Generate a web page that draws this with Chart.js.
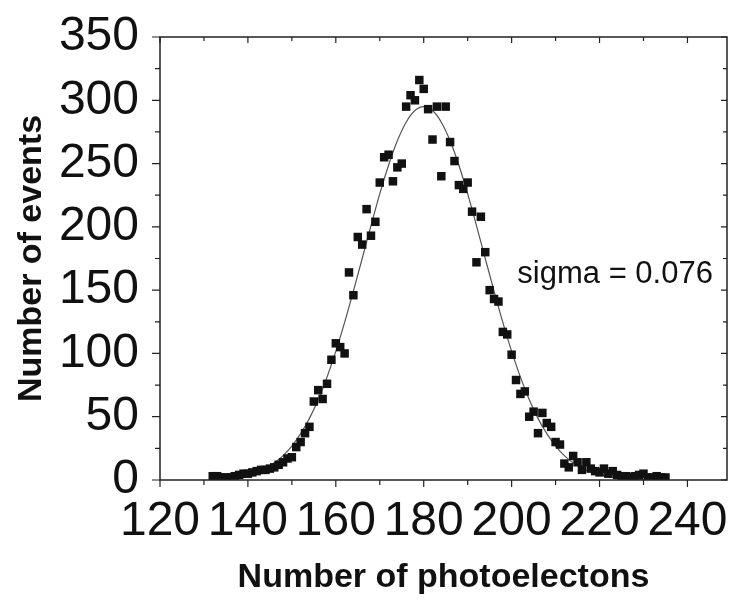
<!DOCTYPE html>
<html>
<head>
<meta charset="utf-8">
<script src="https://cdn.jsdelivr.net/npm/chart.js@4.4.1/dist/chart.umd.min.js"></script>
<style>
  html, body { margin: 0; padding: 0; background: #fff; }
  #wrap { width: 733px; height: 602px; position: relative; }
</style>
</head>
<body>
<div id="wrap"><canvas id="chart"></canvas></div>
<script>
// Photoelectron spectrum — measured bins and Gaussian fit

// bin centres (number of photoelectrons)
const binX = [
  132, 133, 134, 135, 136, 137, 138, 139, 140, 141,
  142, 143, 144, 145, 146, 147, 148, 149, 150, 151,
  152, 153, 154, 155, 156, 157, 158, 159, 160, 161,
  162, 163, 164, 165, 166, 167, 168, 169, 170, 171,
  172, 173, 174, 175, 176, 177, 178, 179, 180, 181,
  182, 183, 184, 185, 186, 187, 188, 189, 190, 191,
  192, 193, 194, 195, 196, 197, 198, 199, 200, 201,
  202, 203, 204, 205, 206, 207, 208, 209, 210, 211,
  212, 213, 214, 215, 216, 217, 218, 219, 220, 221,
  222, 223, 224, 225, 226, 227, 228, 229, 230, 231,
  232, 233, 234, 235
];
// events per bin
const binCounts = [
  3, 3, 2, 2, 2, 3, 4, 5, 5, 6,
  7, 8, 8, 9, 10, 12, 14, 17, 18, 26,
  30, 37, 42, 62, 71, 64, 76, 95, 108, 105,
  100, 164, 146, 192, 186, 214, 193, 204, 235, 255,
  257, 236, 247, 250, 295, 304, 300, 316, 309, 293,
  269, 295, 240, 295, 267, 252, 233, 230, 235, 212,
  172, 208, 180, 150, 143, 141, 117, 115, 99, 79,
  68, 70, 50, 54, 37, 53, 45, 42, 30, 28,
  13, 10, 19, 14, 8, 14, 9, 7, 6, 9,
  5, 7, 4, 3, 3, 2, 3, 4, 5, 2,
  2, 3, 2, 2
];

// fitted curve
const fitX = [
  132, 134, 136, 138, 140, 142, 144, 146, 148, 150,
  152, 154, 156, 158, 160, 162, 164, 166, 168, 170,
  172, 174, 176, 178, 180, 182, 184, 186, 188, 190,
  192, 194, 196, 198, 200, 202, 204, 206, 208, 210,
  212, 214, 216, 218, 220, 222, 224, 226, 228, 230,
  232, 234
];
const fitY = [
  0.6, 1.1, 1.7, 2.7, 4.2, 6.3, 9.4, 13.6, 19.3, 26.8,
  36.6, 48.7, 63.6, 81.3, 101.6, 124.5, 149.2, 175.0, 201.0, 226.0,
  248.7, 268.0, 282.7, 291.9, 295.0, 291.9, 282.7, 268.0, 248.7, 226.0,
  201.0, 175.0, 149.2, 124.5, 101.6, 81.3, 63.6, 48.7, 36.6, 26.8,
  19.3, 13.6, 9.4, 6.3, 4.2, 2.7, 1.7, 1.1, 0.6, 0.35,
  0.2, 0.1
];

const yTicks = [0, 50, 100, 150, 200, 250, 300, 350];
const xTicks = [120, 140, 160, 180, 200, 220, 240];
const note = 'sigma = 0.076';

const FONT = "'Liberation Sans', Arial, sans-serif";

// box around the plot, minor/major ticks on all four sides, and the sigma note
const framePlugin = {
  id: 'frame',
  afterDraw(chart) {
    const { ctx, chartArea: a, scales: { x, y } } = chart;
    ctx.save();
    ctx.strokeStyle = '#222';
    ctx.lineWidth = 1.5;
    ctx.strokeRect(a.left, a.top, a.right - a.left, a.bottom - a.top);

    ctx.lineWidth = 1.2;
    ctx.beginPath();
    for (let v = xTicks[0]; v <= x.max; v += 10) {
      const px = x.getPixelForValue(v);
      const major = xTicks.includes(v);
      ctx.moveTo(px, a.bottom); ctx.lineTo(px, a.bottom + (major ? 7 : 5));
      ctx.moveTo(px, a.top);    ctx.lineTo(px, a.top + (major ? 6 : 4));
    }
    for (let v = 0; v <= y.max; v += 25) {
      const py = y.getPixelForValue(v);
      const major = yTicks.includes(v);
      ctx.moveTo(a.left, py);  ctx.lineTo(a.left - (major ? 8 : 5), py);
      ctx.moveTo(a.right, py); ctx.lineTo(a.right - (major ? 6 : 4), py);
    }
    ctx.stroke();

    ctx.fillStyle = '#111';
    ctx.font = '31px ' + FONT;
    ctx.textAlign = 'left';
    ctx.textBaseline = 'alphabetic';
    ctx.fillText(note, x.getPixelForValue(201.3), y.getPixelForValue(155.6));
    ctx.restore();
  }
};

const ctx = document.getElementById('chart').getContext('2d');
new Chart(ctx, {
  type: 'scatter',
  data: {
    datasets: [
      {
        label: 'events',
        data: binX.map((v, i) => ({ x: v, y: binCounts[i] })),
        pointStyle: 'rect',
        pointRadius: 6,
        pointHoverRadius: 6,
        backgroundColor: '#111',
        borderColor: '#111',
        borderWidth: 0
      },
      {
        label: 'fit',
        data: fitX.map((v, i) => ({ x: v, y: fitY[i] })),
        showLine: true,
        pointRadius: 0,
        borderColor: '#555',
        borderWidth: 1.2,
        cubicInterpolationMode: 'monotone',
        fill: false
      }
    ]
  },
  options: {
    responsive: true,
    maintainAspectRatio: false,
    animation: false,
    layout: { padding: { top: 37, right: 1, left: 0, bottom: 0 } },
    plugins: {
      legend: { display: false },
      tooltip: { enabled: false }
    },
    scales: {
      x: {
        type: 'linear',
        min: 120,
        max: 249,
        afterFit: s => { s.height = 122; s.paddingLeft = 0; s.paddingRight = 0; },
        grid: { display: false },
        border: { display: false },
        ticks: {
          stepSize: 20,
          includeBounds: false,
          autoSkip: false,
          maxRotation: 0,
          padding: 5,
          color: '#111',
          font: { family: FONT, size: 48 },
          callback: v => xTicks.includes(v) ? String(v) : ''
        },
        title: {
          display: true,
          text: 'Number of photoelectons',
          color: '#111',
          padding: { top: 0, bottom: 4 },
          font: { family: FONT, size: 34, weight: 'bold' }
        }
      },
      y: {
        min: 0,
        max: 350,
        afterFit: s => { s.width = 160; s.paddingTop = 0; s.paddingBottom = 0; },
        grid: { display: false },
        border: { display: false },
        ticks: {
          stepSize: 50,
          autoSkip: false,
          padding: 13,
          color: '#111',
          font: { family: FONT, size: 48 },
          callback: v => yTicks.includes(v) ? String(v) : ''
        },
        title: {
          display: true,
          text: 'Number of events',
          color: '#111',
          padding: { top: 11, bottom: 0 },
          font: { family: FONT, size: 34, weight: 'bold' }
        }
      }
    }
  },
  plugins: [framePlugin]
});
</script>
</body>
</html>
